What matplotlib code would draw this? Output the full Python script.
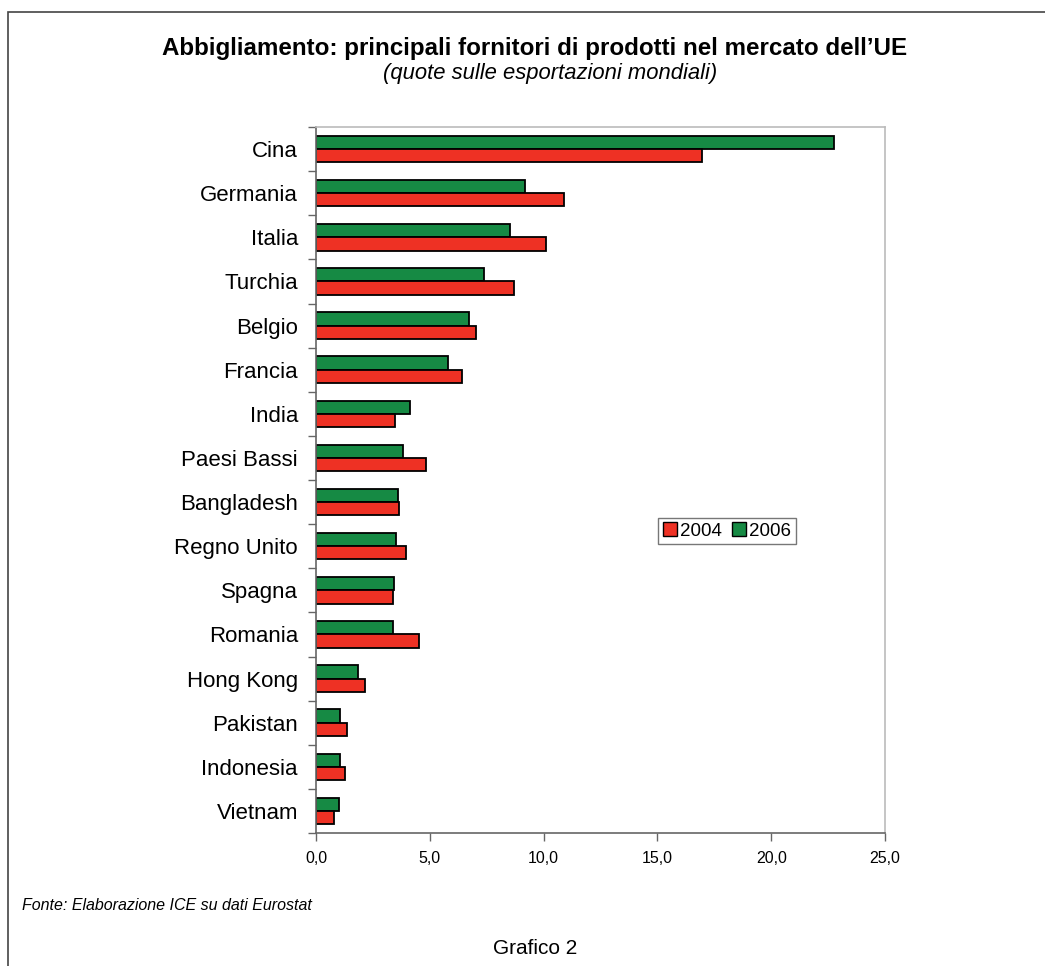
import matplotlib
matplotlib.use("Agg")
import matplotlib.pyplot as plt
from matplotlib.patches import Rectangle, Patch
from matplotlib.ticker import FixedLocator, FuncFormatter

plt.rcParams['font.family'] = ['Liberation Sans', 'DejaVu Sans']

paesi = ["Cina", "Germania", "Italia", "Turchia", "Belgio", "Francia", "India",
         "Paesi Bassi", "Bangladesh", "Regno Unito", "Spagna", "Romania",
         "Hong Kong", "Pakistan", "Indonesia", "Vietnam"]
quote_2004 = [16.95, 10.9, 10.1, 8.7, 7.03, 6.4, 3.47, 4.83, 3.63, 3.95, 3.37, 4.51,
              2.17, 1.36, 1.26, 0.80]
quote_2006 = [22.75, 9.18, 8.52, 7.38, 6.72, 5.79, 4.13, 3.81, 3.59, 3.50, 3.43, 3.38,
              1.86, 1.07, 1.07, 1.00]
x_ticks = [0, 5, 10, 15, 20, 25]

ROSSO = "#EE3124"
VERDE = "#168A44"

W, H = 1045, 966
fig = plt.figure(figsize=(W / 100, H / 100), dpi=100)

# outer frame
fig.patches.append(Rectangle((8 / W, -0.01), 1.1, 1 - 12 / H + 0.01, transform=fig.transFigure,
                             fill=False, edgecolor="#444444", linewidth=1.2))

ax = fig.add_axes([316 / W, 1 - 833 / H, 569 / W, 706 / H])

pos = list(range(len(paesi)))
h = 0.30
ax.barh([p - h / 2 for p in pos], quote_2006, height=h, color=VERDE,
        edgecolor="black", linewidth=1.3, label="2006")
ax.barh([p + h / 2 for p in pos], quote_2004, height=h, color=ROSSO,
        edgecolor="black", linewidth=1.3, label="2004")

ax.set_xlim(0, 25)
ax.set_ylim(len(paesi) - 0.5, -0.5)

ax.xaxis.set_major_locator(FixedLocator(x_ticks))
ax.xaxis.set_major_formatter(FuncFormatter(lambda v, _: f"{v:.1f}".replace(".", ",")))
ax.tick_params(axis="x", direction="out", length=6, width=1, color="#666666",
               labelsize=11.5, pad=7)

# category boundaries as tick marks, names centred on each slot
ax.yaxis.set_major_locator(FixedLocator([p - 0.5 for p in pos] + [len(paesi) - 0.5]))
ax.yaxis.set_major_formatter(FuncFormatter(lambda v, _: ""))
ax.yaxis.set_minor_locator(FixedLocator(pos))
ax.set_yticklabels(paesi, minor=True)
ax.tick_params(axis="y", which="major", direction="out", length=6, width=1, color="#666666")
ax.tick_params(axis="y", which="minor", length=0, labelsize=16, pad=13)

for s in ("left", "bottom"):
    ax.spines[s].set_color("#666666")
    ax.spines[s].set_linewidth(1.2)
for s in ("top", "right"):
    ax.spines[s].set_color("#bbbbbb")
    ax.spines[s].set_linewidth(1.2)

handles = [Patch(facecolor=ROSSO, edgecolor="black", label="2004"),
           Patch(facecolor=VERDE, edgecolor="black", label="2006")]
leg = fig.legend(handles=handles, loc="center", bbox_to_anchor=(727 / W, 1 - 531 / H),
                 ncol=2, fontsize=13.5, frameon=True, fancybox=False,
                 handlelength=0.75, handleheight=0.75, handletextpad=0.2,
                 columnspacing=0.5, borderpad=0.25, borderaxespad=0)
leg.get_frame().set_edgecolor("#555555")
leg.get_frame().set_linewidth(1.0)

fig.text(535 / W, 1 - 48 / H, "Abbigliamento: principali fornitori di prodotti nel mercato dell\u2019UE",
         ha="center", va="center", fontsize=17.4, fontweight="bold")
fig.text(550 / W, 1 - 74 / H, "(quote sulle esportazioni mondiali)",
         ha="center", va="center", fontsize=15.8, style="italic")
fig.text(22 / W, 1 - 906 / H, "Fonte: Elaborazione ICE su dati Eurostat",
         ha="left", va="center", fontsize=11.5, style="italic")
fig.text(535 / W, 1 - 948 / H, "Grafico 2", ha="center", va="center", fontsize=15)

fig.savefig("out.png", dpi=100)
